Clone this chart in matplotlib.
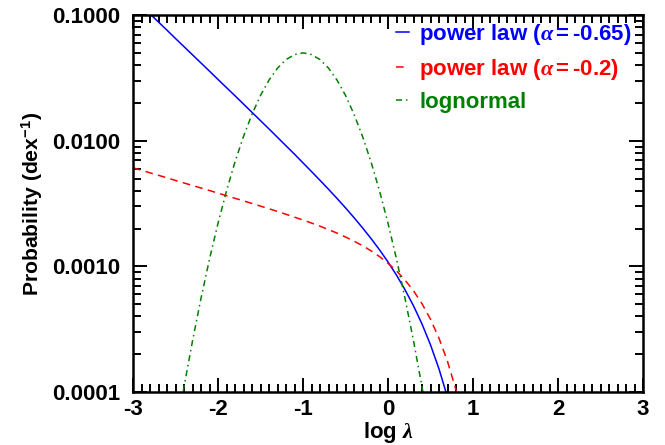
import numpy as np
import matplotlib
matplotlib.use("Agg")
import matplotlib.pyplot as plt
from matplotlib.ticker import NullFormatter, MultipleLocator, LogLocator

plt.rcParams['font.family'] = ['Liberation Sans', 'DejaVu Sans']
plt.rcParams['font.weight'] = 'bold'
plt.rcParams['mathtext.fontset'] = 'custom'
plt.rcParams['mathtext.it'] = 'Liberation Serif:italic'
plt.rcParams['mathtext.rm'] = 'Liberation Sans:bold'
plt.rcParams['mathtext.bf'] = 'Liberation Sans:bold'

# ---- data (log10 lambda, log10 probability) ----
blue_x = [-2.8, -2.7, -2.6, -2.5, -2.4, -2.3, -2.2, -2.1, -2.0, -1.9, -1.8, -1.7,
          -1.6, -1.5, -1.4, -1.3, -1.2, -1.1, -1.0, -0.9, -0.8, -0.7, -0.6, -0.5,
          -0.4, -0.3, -0.2, -0.1, 0.0, 0.1, 0.2, 0.3, 0.4, 0.5, 0.6, 0.7]
blue_logp = [-0.990, -1.055, -1.120, -1.186, -1.251, -1.316, -1.381, -1.446, -1.512,
             -1.577, -1.642, -1.708, -1.774, -1.840, -1.906, -1.973, -2.040, -2.107,
             -2.176, -2.245, -2.315, -2.386, -2.459, -2.534, -2.612, -2.693, -2.778,
             -2.868, -2.965, -3.070, -3.186, -3.314, -3.459, -3.625, -3.817, -4.042]

red_x = [-3.0, -2.9, -2.8, -2.7, -2.6, -2.5, -2.4, -2.3, -2.2, -2.1, -2.0, -1.9,
         -1.8, -1.7, -1.6, -1.5, -1.4, -1.3, -1.2, -1.1, -1.0, -0.9, -0.8, -0.7,
         -0.6, -0.5, -0.4, -0.3, -0.2, -0.1, 0.0, 0.1, 0.2, 0.3, 0.4, 0.5, 0.6,
         0.7, 0.8, 0.85]
red_logp = [-2.215, -2.235, -2.255, -2.275, -2.295, -2.316, -2.336, -2.356, -2.376,
            -2.396, -2.417, -2.437, -2.458, -2.478, -2.499, -2.520, -2.541, -2.563,
            -2.585, -2.608, -2.631, -2.655, -2.680, -2.707, -2.735, -2.766, -2.799,
            -2.835, -2.876, -2.922, -2.975, -3.036, -3.109, -3.194, -3.297, -3.421,
            -3.572, -3.757, -3.984, -4.118]

green_x = [-2.5, -2.4, -2.3, -2.2, -2.1, -2.0, -1.9, -1.8, -1.7, -1.6, -1.5, -1.4,
           -1.3, -1.2, -1.1, -1.0, -0.9, -0.8, -0.7, -0.6, -0.5, -0.4, -0.3, -0.2,
           -0.1, 0.0, 0.1, 0.2, 0.3, 0.4, 0.5]
green_logp = [-4.353, -3.960, -3.593, -3.254, -2.942, -2.657, -2.399, -2.168, -1.965,
              -1.789, -1.639, -1.517, -1.422, -1.354, -1.314, -1.300, -1.314, -1.354,
              -1.422, -1.517, -1.639, -1.789, -1.965, -2.168, -2.399, -2.657, -2.942,
              -3.254, -3.593, -3.960, -4.353]

labels = [r'power law ($\alpha=$-0.65)', r'power law ($\alpha=$-0.2)', 'lognormal']
colors = ['#0000ff', '#ff0000', '#008000']
x_ticks = [-3, -2, -1, 0, 1, 2, 3]
y_ticks = [0.0001, 0.001, 0.01, 0.1]
y_ticklabels = ['0.0001', '0.0010', '0.0100', '0.1000']

fig = plt.figure(figsize=(6.65, 4.45), dpi=100)
ax = fig.add_axes([0.2, 0.119, 0.767, 0.847])

ax.plot(blue_x, np.power(10.0, blue_logp), color=colors[0], lw=1.1, ls='-', label=labels[0])
ax.plot(red_x, np.power(10.0, red_logp), color=colors[1], lw=1.1, ls=(0, (5, 3.5)), label=labels[1])
ax.plot(green_x, np.power(10.0, green_logp), color=colors[2], lw=1.1,
        ls=(0, (4, 2.5, 1, 2.5)), label=labels[2])

ax.set_yscale('log')
ax.set_xlim(-3, 3)
ax.set_ylim(1e-4, 0.1)
ax.set_xticks(x_ticks)
ax.set_xticklabels([str(t) for t in x_ticks])
ax.xaxis.set_minor_locator(MultipleLocator(0.1))
ax.set_yticks(y_ticks)
ax.set_yticklabels(y_ticklabels)
ax.yaxis.set_minor_locator(LogLocator(base=10, subs=np.arange(2, 10)))
ax.yaxis.set_minor_formatter(NullFormatter())

for sp in ax.spines.values():
    sp.set_linewidth(1.8)
ax.tick_params(which='both', direction='in', top=True, right=True, width=1.4)
ax.tick_params(which='major', length=10, labelsize=16)
ax.tick_params(axis='y', which='major', pad=9)
ax.tick_params(axis='x', which='major', pad=5)
ax.tick_params(which='minor', length=5.5)
for lab in ax.get_xticklabels() + ax.get_yticklabels():
    lab.set_fontweight('bold')

ax.set_xlabel(r'log $\lambda$', fontsize=16, fontweight='bold', labelpad=0)
ax.set_ylabel(r'Probability (dex$^{\mathbf{-1}}$)', fontsize=15.2, fontweight='bold', labelpad=5)

leg = ax.legend(loc='upper right', frameon=False, fontsize=16, handlelength=0.6,
                handletextpad=0.45, labelspacing=0.45, borderaxespad=0.0,
                bbox_to_anchor=(0.995, 1.005))
for txt, c in zip(leg.get_texts(), colors):
    txt.set_color(c)
    txt.set_fontweight('bold')

fig.savefig('out.png', dpi=100)
